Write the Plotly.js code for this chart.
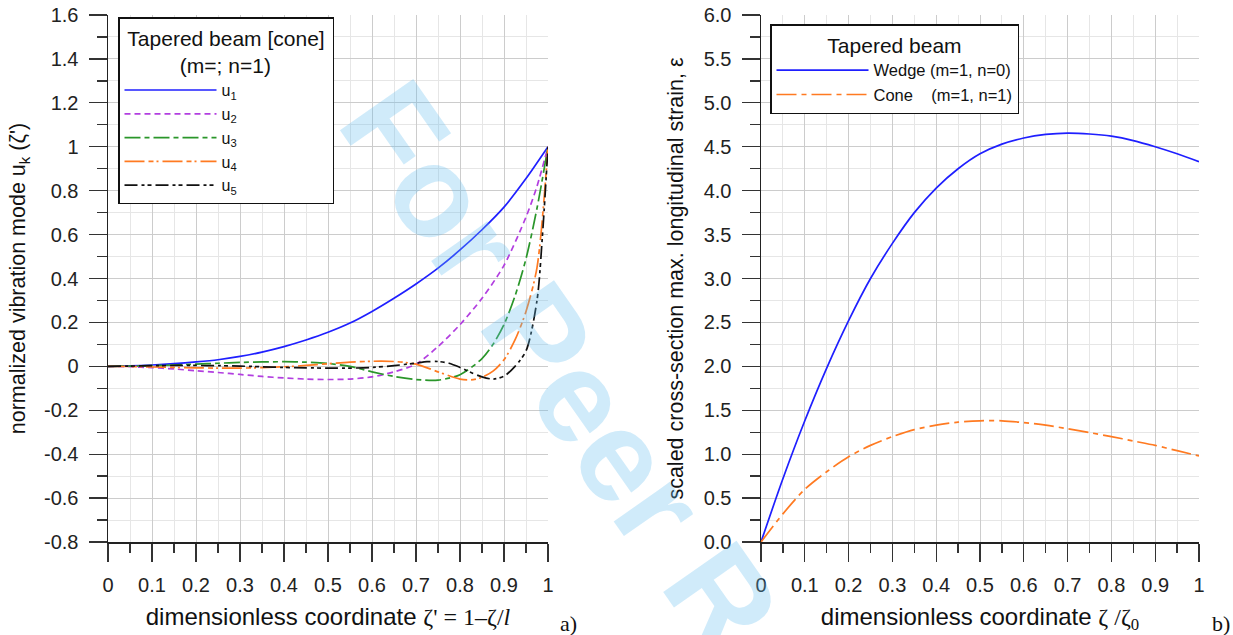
<!DOCTYPE html>
<html><head><meta charset="utf-8">
<script src="https://cdn.plot.ly/plotly-3.0.1.min.js"></script>
<style>html,body{margin:0;padding:0;background:#fff}</style>
</head><body><div id="chart" style="width:1233px;height:635px"></div>
<script>
// ---- data: left panel (vibration modes of a cone-tapered beam) ----
const xU1 = [0,0.05,0.1,0.15,0.2,0.25,0.3,0.35,0.4,0.45,0.5,0.55,0.6,0.65,0.7,0.75,0.8,0.85,0.9,0.95,1];
const u1  = [0,0.002,0.006,0.012,0.02,0.03,0.045,0.065,0.09,0.12,0.155,0.197,0.25,0.31,0.375,0.447,0.53,0.622,0.725,0.855,1];
const xU2 = [0,0.05,0.1,0.15,0.2,0.25,0.3,0.35,0.4,0.45,0.5,0.55,0.6,0.65,0.7,0.75,0.8,0.85,0.9,0.95,0.975,1];
const u2  = [0,-0.002,-0.006,-0.012,-0.02,-0.028,-0.037,-0.046,-0.053,-0.058,-0.06,-0.058,-0.048,-0.025,0.01,0.09,0.19,0.31,0.46,0.68,0.82,1];
const xU3 = [0,0.05,0.1,0.15,0.2,0.25,0.3,0.35,0.4,0.45,0.5,0.55,0.6,0.65,0.7,0.75,0.8,0.85,0.875,0.9,0.925,0.95,0.975,1];
const u3  = [0,0.001,0.003,0.006,0.01,0.014,0.018,0.02,0.021,0.019,0.013,0.0,-0.025,-0.046,-0.06,-0.063,-0.038,0.035,0.1,0.19,0.32,0.49,0.72,1];
const xU4 = [0,0.05,0.1,0.15,0.2,0.25,0.3,0.35,0.4,0.45,0.5,0.55,0.6,0.65,0.7,0.75,0.8,0.825,0.85,0.875,0.9,0.925,0.95,0.975,1];
const u4  = [0,-0.001,-0.003,-0.005,-0.007,-0.008,-0.008,-0.006,-0.002,0.004,0.012,0.019,0.023,0.022,0.01,-0.025,-0.058,-0.062,-0.05,-0.022,0.03,0.12,0.25,0.45,1];
const xU5 = [0,0.05,0.1,0.15,0.2,0.25,0.3,0.35,0.4,0.45,0.5,0.55,0.6,0.65,0.7,0.725,0.75,0.775,0.8,0.825,0.85,0.875,0.9,0.925,0.95,0.975,0.9875,1];
const u5  = [0,0.001,0.003,0.004,0.004,0.003,0.001,-0.002,-0.005,-0.007,-0.008,-0.008,-0.005,0.003,0.015,0.021,0.022,0.014,-0.005,-0.028,-0.048,-0.058,-0.045,0.0,0.07,0.3,0.6,1];
const modeNames = ['u<sub>1</sub>','u<sub>2</sub>','u<sub>3</sub>','u<sub>4</sub>','u<sub>5</sub>'];

// ---- data: right panel (scaled max longitudinal strain) ----
const xR    = [0,0.05,0.1,0.15,0.2,0.25,0.3,0.35,0.4,0.45,0.5,0.55,0.6,0.65,0.7,0.75,0.8,0.85,0.9,0.95,1];
const wedge = [0,0.72,1.38,1.98,2.52,3.0,3.4,3.75,4.03,4.25,4.42,4.53,4.6,4.64,4.655,4.645,4.62,4.57,4.5,4.42,4.33];
const cone  = [0,0.32,0.6,0.8,0.97,1.1,1.2,1.28,1.33,1.365,1.38,1.38,1.36,1.33,1.29,1.245,1.2,1.15,1.1,1.04,0.98];
const strainNames = ['Wedge (m=1, n=0)', 'Cone\u00a0\u00a0\u00a0\u00a0(m=1, n=1)'];

// ---- tick labels ----
const yLeftTicks  = [-0.8,-0.6,-0.4,-0.2,0,0.2,0.4,0.6,0.8,1,1.2,1.4,1.6];
const yLeftLabels = ['-0.8','-0.6','-0.4','-0.2','0','0.2','0.4','0.6','0.8','1','1.2','1.4','1.6'];

const W = 1233, H = 635;
const fx = v => v / W, fy = v => 1 - v / H;
const SANS = 'Arial, "Liberation Sans", sans-serif';
const SERIF = '"Times New Roman", "Liberation Serif", serif';
const NB = n => '\u00a0'.repeat(n);
const serifSpan = t => '<span style="font-family:\'Liberation Serif\',\'Times New Roman\',serif">' + t + '</span>';

const modeStyles = [
  {color:'#1f1fff', dash:'solid'},
  {color:'#b23ee0', dash:'6px,4px'},
  {color:'#2a962a', dash:'16px,4px,5px,4px'},
  {color:'#ff7a21', dash:'20px,4px,5px,3px,2px,4px'},
  {color:'#111111', dash:'13px,4px,3px,3px,4px,4px'}
];
const modeX = [xU1,xU2,xU3,xU4,xU5], modeY = [u1,u2,u3,u4,u5];

const traces = [];
for (let i = 0; i < 5; i++) {
  traces.push({
    x: modeX[i], y: modeY[i], type:'scatter', mode:'lines', name: modeNames[i],
    xaxis:'x', yaxis:'y', legend:'legend',
    line:{color:modeStyles[i].color, width:1.7, dash:modeStyles[i].dash, shape:'spline', smoothing:0.8}
  });
}
traces.push({x:xR, y:wedge, type:'scatter', mode:'lines', name:strainNames[0], xaxis:'x2', yaxis:'y2', legend:'legend2',
  line:{color:'#1f1fff', width:1.7, shape:'spline', smoothing:0.8}});
traces.push({x:xR, y:cone, type:'scatter', mode:'lines', name:strainNames[1], xaxis:'x2', yaxis:'y2', legend:'legend2',
  line:{color:'#ff7a21', width:1.7, dash:'20px,5px,5px,5px', shape:'spline', smoothing:0.8}});

const gridMajor = '#cccccc', gridMinor = '#e6e6e6';
function xAxis(dom, anchor, titleText) {
  return {
    domain: dom, anchor: anchor, range:[0,1], tick0:0, dtick:0.1,
    ticks:'outside', ticklen:18, tickwidth:1.3, tickcolor:'#333', ticklabelstandoff:6,
    showline:true, linecolor:'#222', linewidth:1.5,
    showgrid:true, gridcolor:gridMajor, gridwidth:1, zeroline:false,
    minor:{tick0:0, dtick:0.05, ticks:'outside', ticklen:9, tickwidth:1.3, tickcolor:'#333', showgrid:true, gridcolor:gridMinor, gridwidth:1},
    tickfont:{family:SANS, size:20, color:'#222'},
    title:{text:titleText, font:{family:SANS, size:24, color:'#111'}, standoff:13},
    automargin:false, fixedrange:true
  };
}
function yAxis(dom, anchor, titleText, standoff, extra) {
  return Object.assign({
    domain: dom, anchor: anchor,
    ticks:'outside', ticklen:18, tickwidth:1.3, tickcolor:'#333', ticklabelstandoff:6,
    showline:true, linecolor:'#222', linewidth:1.5,
    showgrid:true, gridcolor:gridMajor, gridwidth:1, zeroline:false,
    tickfont:{family:SANS, size:20, color:'#222'},
    title:{text:titleText, font:{family:SANS, size:21.5, color:'#111'}, standoff:standoff},
    automargin:false, fixedrange:true
  }, extra);
}
const yDom = [fy(542), fy(15)];

const layout = {
  width:W, height:H, margin:{l:0, r:0, t:0, b:0},
  paper_bgcolor:'#fff', plot_bgcolor:'#fff',
  font:{family:SANS, color:'#111'},
  showlegend:true,
  xaxis: xAxis([fx(108), fx(548)], 'y',
    'dimensionless coordinate ' + serifSpan('ζ\' = 1–ζ/<i>l</i>') + NB(4)),
  yaxis: yAxis(yDom, 'x', 'normalized vibration mode u<sub>k</sub> (ζ\')', 12, {
    range:[-0.8,1.6], tickmode:'array', tickvals:yLeftTicks, ticktext:yLeftLabels,
    minor:{tick0:0, dtick:0.1, ticks:'outside', ticklen:10, tickwidth:1.3, tickcolor:'#333', showgrid:true, gridcolor:gridMinor, gridwidth:1}
  }),
  xaxis2: xAxis([fx(761), fx(1199)], 'y2',
    'dimensionless coordinate ' + serifSpan('ζ /ζ<sub>0</sub>') + NB(3)),
  yaxis2: yAxis(yDom, 'x2', 'scaled cross-section max. longitudinal strain, ε', 14, {
    range:[0,6], tick0:0, dtick:0.5, tickformat:'.1f',
    minor:{tick0:0, dtick:0.25, ticks:'outside', ticklen:10, tickwidth:1.3, tickcolor:'#333', showgrid:true, gridcolor:gridMinor, gridwidth:1}
  }),
  legend:{
    x:fx(118), y:fy(17), xanchor:'left', yanchor:'top', xref:'paper', yref:'paper',
    bgcolor:'#fff', bordercolor:'#111', borderwidth:1.5,
    title:{text:NB(1) + 'Tapered beam [cone]' + NB(1) + '<br>' + NB(10) + '(m=; n=1)', side:'top center', font:{family:SANS, size:21, color:'#111'}},
    font:{family:SANS, size:16, color:'#111'}, itemwidth:92, traceorder:'normal'
  },
  legend2:{
    x:fx(770), y:fy(24), xanchor:'left', yanchor:'top', xref:'paper', yref:'paper',
    bgcolor:'#fff', bordercolor:'#111', borderwidth:1.5,
    title:{text:'Tapered beam', side:'top center', font:{family:SANS, size:21, color:'#111'}},
    font:{family:SANS, size:16.5, color:'#111'}, itemwidth:92, traceorder:'normal'
  },
  annotations:[
    {text:'a)', xref:'paper', yref:'paper', x:fx(568), y:fy(623), xanchor:'center', yanchor:'middle', showarrow:false, font:{family:SERIF, size:22, color:'#111'}},
    {text:'b)', xref:'paper', yref:'paper', x:fx(1221), y:fy(623), xanchor:'center', yanchor:'middle', showarrow:false, font:{family:SERIF, size:22, color:'#111'}},
    {text:'<b>For Peer Review</b>', xref:'paper', yref:'paper', x:fx(662), y:fy(512), xanchor:'center', yanchor:'middle', showarrow:false, textangle:55,
     font:{family:SANS, size:130, color:'rgba(100,190,240,0.30)'}}
  ]
};

Plotly.newPlot('chart', traces, layout, {displayModeBar:false, staticPlot:true});
</script>
</body></html>
